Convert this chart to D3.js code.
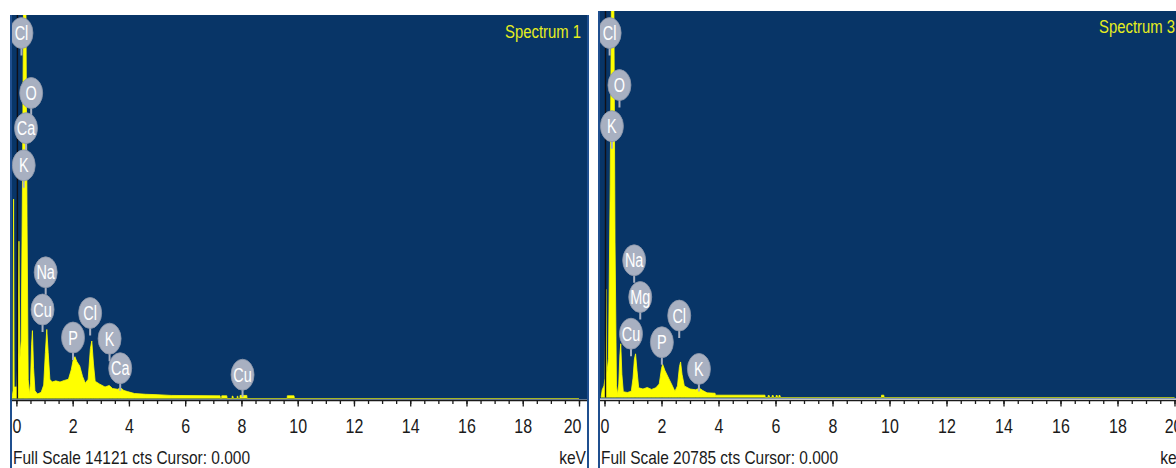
<!DOCTYPE html>
<html>
<head>
<meta charset="utf-8">
<script src="https://cdn.jsdelivr.net/npm/d3@7"></script>
<style>
  html, body { margin: 0; padding: 0; background: #ffffff; }
  svg { display: block; }
  text { font-family: "Liberation Sans", Arial, sans-serif; }
</style>
</head>
<body>
<svg id="chart" width="1176" height="468"></svg>
<script>
// ---- EDS spectra: energy (keV) and counts per channel ----
const spectrum1Energy = [-0.16, -0.12, -0.10, -0.08, 0.02, 0.06, 0.09, 0.12, 0.17, 0.22, 0.25, 0.34, 0.38, 0.42, 0.46,
  0.50, 0.54, 0.57, 0.61, 0.66, 0.75, 0.88, 0.97, 1.03, 1.08, 1.13, 1.19, 1.27, 1.40, 1.55, 1.70, 1.85, 1.95,
  2.03, 2.08, 2.15, 2.25, 2.35, 2.45, 2.55, 2.63, 2.68, 2.74, 2.80, 2.95, 3.15, 3.30, 3.42, 3.60, 3.70, 3.82,
  3.95, 4.20, 4.60, 5.00, 5.50, 7.24, 7.25, 7.30, 7.30, 7.48, 7.49, 7.67, 7.67, 7.70, 7.71, 7.85, 7.85, 7.87,
  7.88, 7.95, 7.95, 8.19, 8.20, 9.63, 9.63, 9.87, 9.88, 20.0];
const spectrum1Counts = [0, 282, 7343, 424, 424, 1695, 5790, 1412, 2118, 8473, 14121, 14121, 6354, 706, 169,
  565, 1977, 2499, 1130, 282, 169, 226, 494, 1695, 2542, 1695, 706, 607, 650, 607, 664, 706, 1059,
  1483, 1539, 1356, 1200, 819, 565, 706, 1836, 2118, 1271, 635, 537, 424, 480, 367, 339, 395, 297,
  254, 184, 155, 141, 113, 99, 0, 0, 99, 99, 0, 0, 85, 85, 0, 0, 85, 85,
  0, 0, 113, 113, 0, 0, 99, 99, 0, 0];

const spectrum3Energy = [-0.12, -0.08, -0.02, 0.02, 0.05, 0.08, 0.14, 0.20, 0.24, 0.33, 0.37, 0.42, 0.46, 0.50,
  0.54, 0.57, 0.61, 0.66, 0.80, 0.94, 1.00, 1.05, 1.09, 1.14, 1.20, 1.35, 1.50, 1.65, 1.80, 1.92, 2.00, 2.04,
  2.12, 2.25, 2.35, 2.47, 2.56, 2.63, 2.67, 2.72, 2.80, 3.00, 3.20, 3.33, 3.45, 3.60, 3.88, 3.89, 5.63, 5.64,
  5.74, 5.74, 5.78, 5.79, 5.88, 5.88, 5.92, 5.93, 6.02, 6.02, 6.06, 6.07, 6.12, 6.12, 6.16, 6.17,
  9.72, 9.72, 9.80, 9.81, 20.0];
const spectrum3Counts = [0, 416, 624, 1039, 5820, 1247, 2079, 11432, 20785, 20785, 8314, 624, 166, 727,
  2286, 2889, 1247, 312, 270, 333, 1039, 2079, 2349, 1455, 520, 457, 540, 436, 520, 727, 1559, 1788,
  1455, 1039, 727, 333, 624, 1663, 1912, 1247, 624, 457, 416, 499, 374, 249, 229, 125, 125, 0,
  0, 104, 104, 0, 0, 104, 104, 0, 0, 104, 104, 0, 0, 104, 104, 0,
  0, 125, 125, 0, 0];

// ---- element markers: symbol, line energy (keV), marker height (counts) ----
const spectrum1Labels = ["Cl", "O", "Ca", "K", "Na", "Cu", "P", "Cl", "K", "Ca", "Cu"];
const spectrum1LabelEnergy = [0.18, 0.525, 0.341, 0.26, 1.041, 0.93, 2.013, 2.622, 3.313, 3.69, 8.04];
const spectrum1LabelCounts = [13458, 11250, 9955, 8586, 4646, 3276, 2245, 3149, 2203, 1116, 876];

const spectrum3Labels = ["Cl", "O", "K", "Na", "Mg", "Cu", "P", "Cl", "K"];
const spectrum3LabelEnergy = [0.18, 0.525, 0.26, 1.041, 1.254, 0.93, 2.013, 2.622, 3.313];
const spectrum3LabelCounts = [19600, 16800, 14591, 7379, 5404, 3430, 2972, 4406, 1538];

// ---- panel text and axis ----
const spectrumTitles = ["Spectrum 1", "Spectrum 3"];
const fullScaleCounts = [14121, 20785];
const cursorKeV = [0, 0];
const keVMajorTicks = [0, 2, 4, 6, 8, 10, 12, 14, 16, 18, 20];
const keVMinorTicks = d3.range(0, 20.001, 0.5);
const axisUnit = "keV";

// ---- drawing ----
const COLORS = {
  plot: "#083567",
  frame: "#1f4f8f",
  trace: "#ffff00",
  title: "#e6ee1e",
  marker: "#a8b0c1",
  markerEdge: "#8d97aa",
  ink: "#1a1a1a",
  cursor: "#101018"
};
const NARROW = 0.82;   // horizontal squeeze giving the condensed instrument font

// squeeze a text element horizontally, keeping its anchor
function narrow(sel, factor = NARROW) {
  sel.each(function () {
    const len = this.getComputedTextLength();
    d3.select(this)
      .attr("textLength", len * factor)
      .attr("lengthAdjust", "spacingAndGlyphs");
  });
  return sel;
}

const svg = d3.select("#chart");

const panels = [
  { left: 11, right: 588, top: 15, baseY: 398.5, axisY: 400.5, zeroX: 16.4, pxPerKeV: 28.13,
    titleX: 505, titleY: 37.5, footX: 13, unitEnd: 586,
    energy: spectrum1Energy, counts: spectrum1Counts,
    labels: spectrum1Labels, labelEnergy: spectrum1LabelEnergy, labelCounts: spectrum1LabelCounts },
  { left: 599, right: 1189, top: 11, baseY: 397.5, axisY: 400.5, zeroX: 604.5, pxPerKeV: 28.5,
    titleX: 1099, titleY: 33, footX: 601, unitEnd: 1187,
    energy: spectrum3Energy, counts: spectrum3Counts,
    labels: spectrum3Labels, labelEnergy: spectrum3LabelEnergy, labelCounts: spectrum3LabelCounts }
];

panels.forEach((p, i) => {
  const g = svg.append("g");
  const x = d3.scaleLinear().domain([0, 20]).range([p.zeroX, p.zeroX + 20 * p.pxPerKeV]);
  const y = d3.scaleLinear().domain([0, fullScaleCounts[i]]).range([p.baseY, p.top]);

  // plot background
  g.append("rect")
    .attr("x", p.left).attr("y", p.top)
    .attr("width", p.right - p.left).attr("height", p.baseY + 1 - p.top)
    .attr("fill", COLORS.plot);

  const clipId = "plotclip" + i;
  svg.append("defs").append("clipPath").attr("id", clipId)
    .append("rect")
    .attr("x", p.left + 1).attr("y", p.top)
    .attr("width", p.right - p.left - 2).attr("height", p.baseY - p.top);

  // spectrum trace
  const pts = p.energy.map((e, k) => [e, p.counts[k]]);
  const area = d3.area()
    .x(d => x(d[0]))
    .y0(y(0))
    .y1(d => y(d[1]))
    .curve(d3.curveLinear);
  g.append("path")
    .datum(pts)
    .attr("clip-path", `url(#${clipId})`)
    .attr("d", area)
    .attr("fill", COLORS.trace)
    .attr("stroke", COLORS.trace)
    .attr("stroke-width", 0.8)
    .attr("stroke-linejoin", "miter");

  // cursor line
  g.append("line")
    .attr("x1", x(cursorKeV[i]) + 1).attr("x2", x(cursorKeV[i]) + 1)
    .attr("y1", p.top).attr("y2", p.baseY)
    .attr("stroke", COLORS.cursor).attr("stroke-width", 1.4);

  // element markers
  const rx = 11.5, ry = 15.5, stem = 7;
  const markers = g.append("g").attr("clip-path", `url(#${clipId})`);
  p.labels.forEach((name, k) => {
    const cx = x(p.labelEnergy[k]);
    const cy = y(p.labelCounts[k]);
    markers.append("line")
      .attr("x1", cx).attr("x2", cx)
      .attr("y1", cy).attr("y2", cy + ry + stem)
      .attr("stroke", COLORS.marker).attr("stroke-width", 2);
  });
  p.labels.forEach((name, k) => {
    const cx = x(p.labelEnergy[k]);
    const cy = y(p.labelCounts[k]);
    markers.append("ellipse")
      .attr("cx", cx).attr("cy", cy).attr("rx", rx).attr("ry", ry)
      .attr("fill", COLORS.marker)
      .attr("stroke", COLORS.markerEdge).attr("stroke-width", 0.8);
    markers.append("text")
      .attr("x", cx).attr("y", cy + 7)
      .attr("text-anchor", "middle")
      .attr("font-size", 19.5)
      .attr("fill", "#ffffff")
      .text(name)
      .call(narrow, 0.74);
  });

  // title
  g.append("text")
    .attr("x", p.titleX).attr("y", p.titleY)
    .attr("font-size", 17.5)
    .attr("fill", COLORS.title)
    .attr("textLength", 76).attr("lengthAdjust", "spacingAndGlyphs")
    .text(spectrumTitles[i]);

  // frame: side borders and axis line
  g.append("line")
    .attr("x1", p.left).attr("x2", p.left).attr("y1", p.top).attr("y2", 468)
    .attr("stroke", COLORS.frame).attr("stroke-width", 2);
  g.append("line")
    .attr("x1", p.right).attr("x2", p.right).attr("y1", p.top).attr("y2", 468)
    .attr("stroke", COLORS.frame).attr("stroke-width", 2);
  g.append("line")
    .attr("x1", p.left + 1).attr("x2", p.right - 1).attr("y1", p.axisY).attr("y2", p.axisY)
    .attr("stroke", COLORS.ink).attr("stroke-width", 1.5);

  // minor ticks
  const minorAxis = d3.axisBottom(x).tickValues(keVMinorTicks).tickSize(3.5).tickSizeOuter(0).tickFormat("");
  const ma = g.append("g").attr("transform", `translate(0,${p.axisY})`).call(minorAxis);
  ma.select(".domain").remove();
  ma.selectAll(".tick line").attr("stroke", COLORS.ink).attr("stroke-width", 1.3);

  // major ticks with labels
  const majorAxis = d3.axisBottom(x).tickValues(keVMajorTicks).tickSize(6).tickSizeOuter(0)
    .tickPadding(13).tickFormat(d3.format("d"));
  const MA = g.append("g").attr("transform", `translate(0,${p.axisY})`).call(majorAxis);
  MA.select(".domain").remove();
  MA.attr("font-family", null);
  MA.selectAll(".tick line").attr("stroke", COLORS.ink).attr("stroke-width", 1.3);
  MA.selectAll(".tick text")
    .attr("font-size", 19.5)
    .attr("fill", COLORS.ink)
    .call(narrow)
    .each(function (d) {
      // keep labels inside the panel frame
      const w = +this.getAttribute("textLength");
      const cx = x(d);
      const maxRight = p.right - 7;
      if (cx + w / 2 > maxRight) {
        d3.select(this).attr("x", maxRight - w / 2 - cx);
      }
    });

  // footer
  g.append("text")
    .attr("x", p.footX).attr("y", 463.5)
    .attr("font-size", 19)
    .attr("fill", COLORS.ink)
    .attr("textLength", 237).attr("lengthAdjust", "spacingAndGlyphs")
    .text(`Full Scale ${fullScaleCounts[i]} cts Cursor: ${cursorKeV[i].toFixed(3)}`);
  g.append("text")
    .attr("x", p.unitEnd).attr("y", 463.5)
    .attr("text-anchor", "end")
    .attr("font-size", 19)
    .attr("fill", COLORS.ink)
    .text(axisUnit)
    .call(narrow);
});
</script>
</body>
</html>
